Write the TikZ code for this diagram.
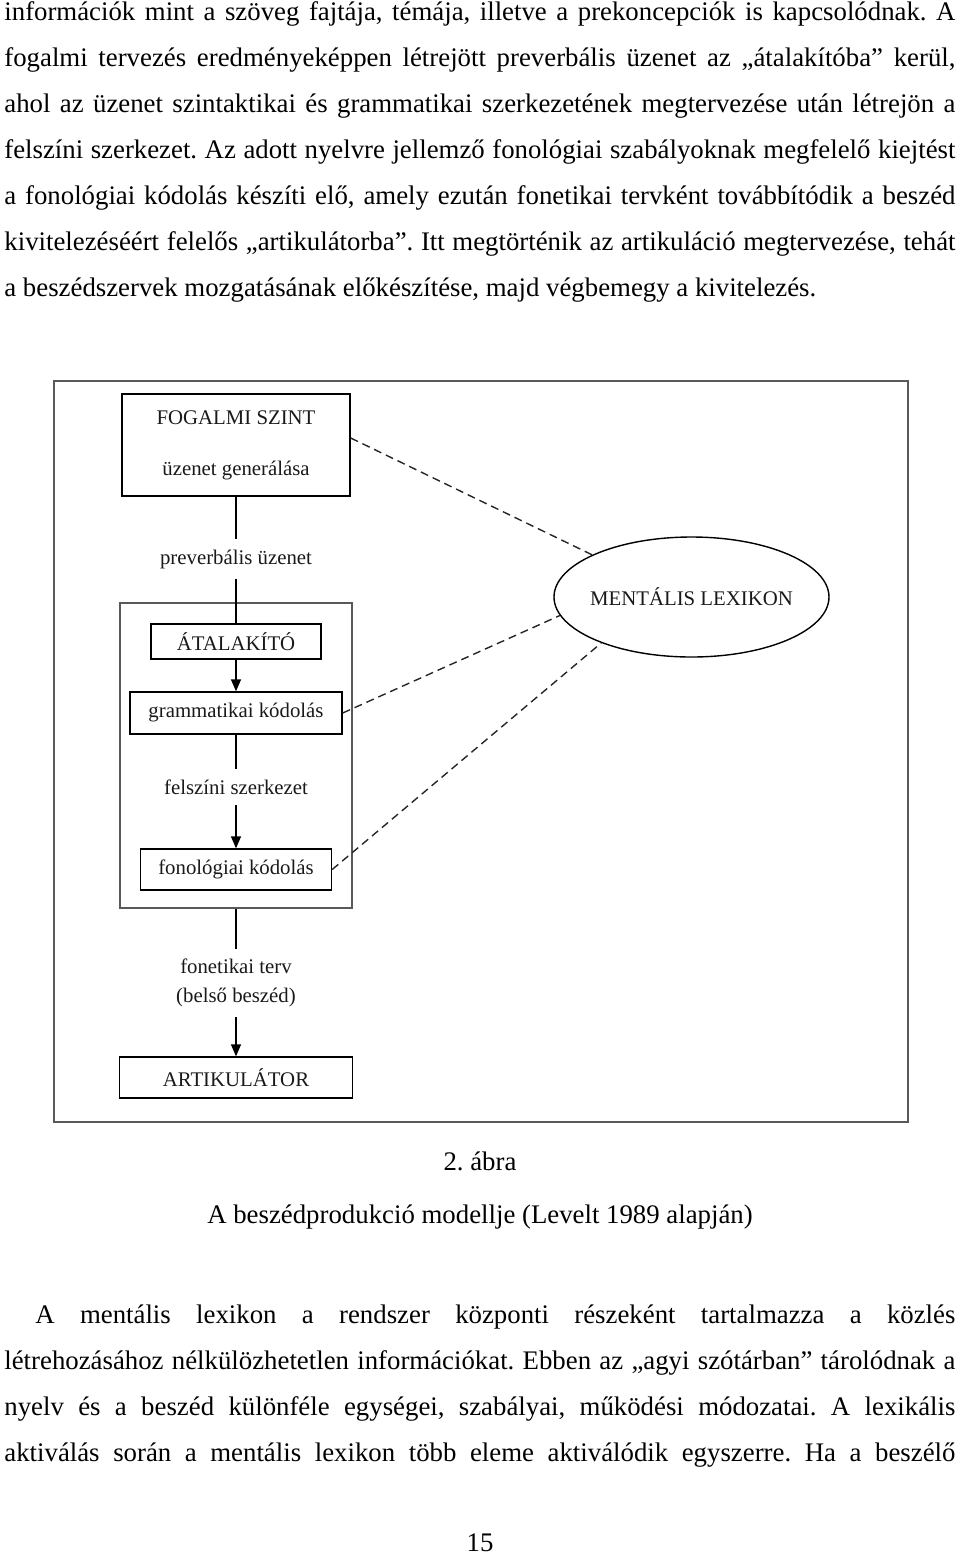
\documentclass[tikz,border=0pt]{standalone}
\usepackage{fontspec}
\setmainfont{Liberation Serif}
\frenchspacing
\usetikzlibrary{shapes.geometric,arrows.meta}

% one justified line of the page text
\newcommand\pageline[2][475.5pt]{\makebox[#1][s]{#2}}

\tikzset{
  pagetext/.style={inner sep=0pt,anchor=base west,font=\fontsize{13.4}{16}\selectfont},
  frame/.style={draw=black!65,line width=1pt,inner sep=0pt},
  stage/.style={draw,line width=0.7pt,inner sep=0pt,text=black!90,font=\fontsize{10.4}{12.5}\selectfont},
  midtext/.style={inner sep=5pt,text=black!90,font=\fontsize{10.4}{12.5}\selectfont},
  flow/.style={line width=0.7pt},
  flowarr/.style={flow,-{Triangle[length=6pt,width=5pt]}},
  lexlink/.style={draw=black!85,line width=0.7pt,dash pattern=on 4pt off 2.5pt}
}

\begin{document}
\begin{tikzpicture}[x=0.5pt,y=-0.5pt]
\useasboundingbox (0,0) rectangle (960,1554);

% text above the figure
\node[pagetext] (t1) at (4,20) {\pageline{információk mint a szöveg fajtája, témája, illetve a prekoncepciók is kapcsolódnak. A}};
\node[pagetext] (t2) at (4,66) {\pageline{fogalmi tervezés eredményeképpen létrejött preverbális üzenet az „átalakítóba” kerül,}};
\node[pagetext] (t3) at (4,112) {\pageline{ahol az üzenet szintaktikai és grammatikai szerkezetének megtervezése után létrejön a}};
\node[pagetext] (t4) at (4,158) {\pageline{felszíni szerkezet. Az adott nyelvre jellemző fonológiai szabályoknak megfelelő kiejtést}};
\node[pagetext] (t5) at (4,204) {\pageline{a fonológiai kódolás készíti elő, amely ezután fonetikai tervként továbbítódik a beszéd}};
\node[pagetext] (t6) at (4,250) {\pageline{kivitelezéséért felelős „artikulátorba”. Itt megtörténik az artikuláció megtervezése, tehát}};
\node[pagetext] (t7) at (4,296) {a beszédszervek mozgatásának előkészítése, majd végbemegy a kivitelezés.};

% the figure
\draw[frame] (54,381) rectangle (908,1122);
\node[frame,minimum width=116pt,minimum height=152.5pt] (koder) at (236,755.5) {};

\node[stage,align=center,minimum width=114pt,minimum height=51pt] (fogalmi) at (236,445) {FOGALMI SZINT\\[13pt]üzenet generálása};
\node[midtext] (preverb) at (236,559) {preverbális üzenet};
\node[stage,minimum width=85pt,minimum height=17.5pt] (atalakito) at (236,641.5) {ÁTALAKÍTÓ};
\node[stage,minimum width=106pt,minimum height=21pt] (gramm) at (236,713) {grammatikai kódolás};
\node[midtext] (felszini) at (236,787) {felszíni szerkezet};
\node[stage,minimum width=95.5pt,minimum height=20.5pt] (fonol) at (236,869.5) {fonológiai kódolás};
\node[midtext,align=center] (fonetik) at (236,983) {fonetikai terv\\[2pt](belső beszéd)};
\node[stage,minimum width=116.5pt,minimum height=20.5pt] (artik) at (236,1077.5) {ARTIKULÁTOR};
\node[stage,ellipse,inner xsep=-3pt,minimum width=137.5pt,minimum height=60pt] (lexikon) at (691.5,597) {MENTÁLIS LEXIKON};

\draw[flow] (fogalmi) -- (preverb);
\draw[flow] (preverb) -- (atalakito);
\draw[flowarr] (atalakito) -- (gramm);
\draw[flow] (gramm) -- (felszini);
\draw[flowarr] (felszini) -- (fonol);
\draw[flow] (koder) -- (fonetik);
\draw[flowarr] (fonetik) -- (artik);

\draw[lexlink] ([yshift=3.5pt]fogalmi.east) -- (lexikon.157);
\draw[lexlink] (gramm.east) -- (lexikon.188);
\draw[lexlink] (fonol.east) -- (lexikon.207);

% caption
\node[pagetext,anchor=base] (abra) at (480,1170) {2. ábra};
\node[pagetext,anchor=base] (abracim) at (480,1223) {A beszédprodukció modellje (Levelt 1989 alapján)};

% text below the figure
\node[pagetext] (b1) at (35,1323) {\pageline[460pt]{A mentális lexikon a rendszer központi részeként tartalmazza a közlés}};
\node[pagetext] (b2) at (4,1369) {\pageline{létrehozásához nélkülözhetetlen információkat. Ebben az „agyi szótárban” tárolódnak a}};
\node[pagetext] (b3) at (4,1415) {\pageline{nyelv és a beszéd különféle egységei, szabályai, működési módozatai. A lexikális}};
\node[pagetext] (b4) at (4,1461) {\pageline{aktiválás során a mentális lexikon több eleme aktiválódik egyszerre. Ha a beszélő}};

\node[pagetext,anchor=base] (oldal) at (480,1551) {15};
\end{tikzpicture}
\end{document}
